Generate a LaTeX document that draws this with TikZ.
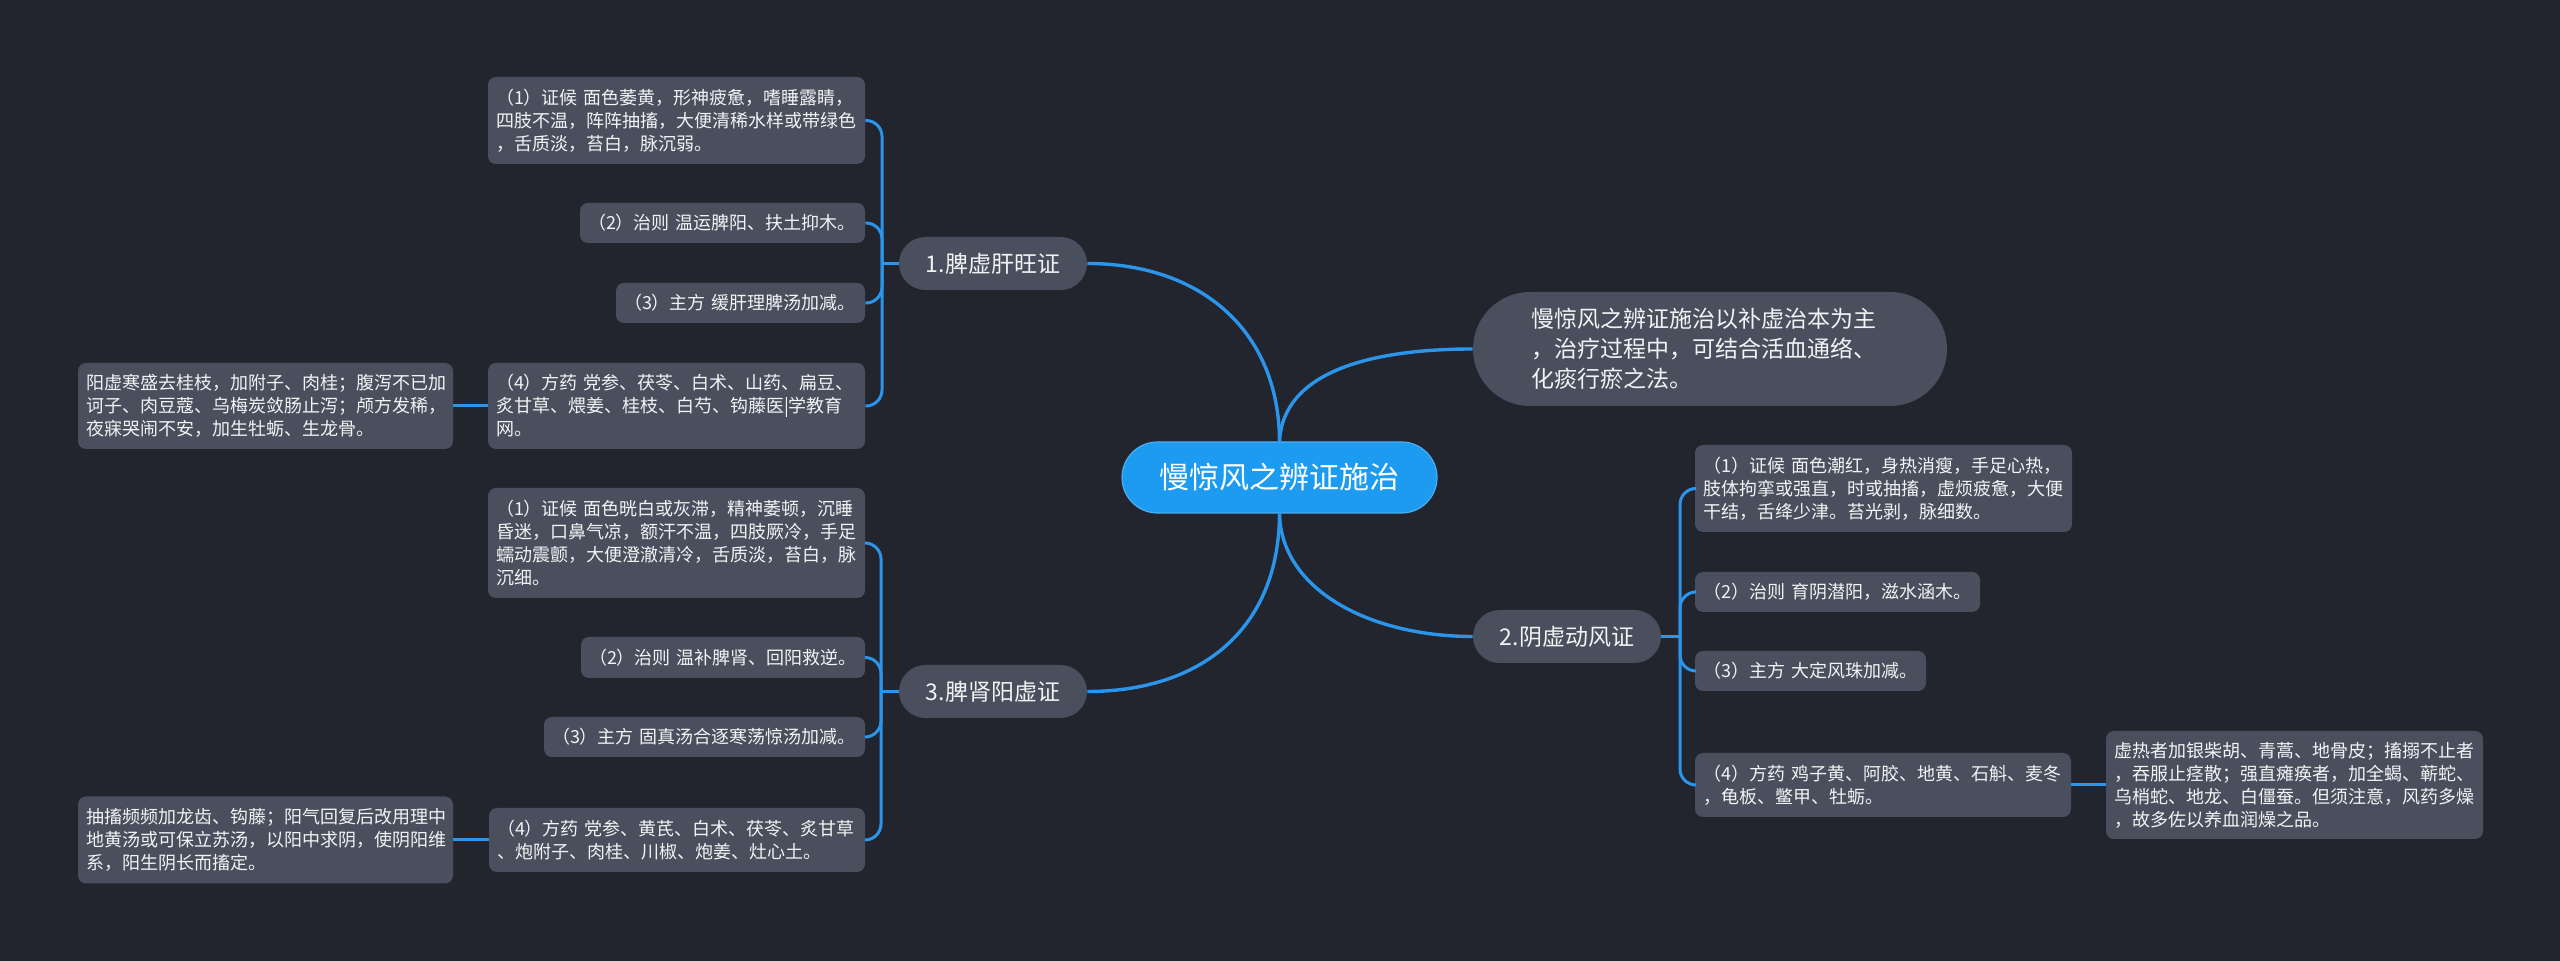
\documentclass[tikz,border=0pt]{standalone}
\usepackage{fontspec}
\setmainfont{Noto Sans CJK SC}
\definecolor{bg}{HTML}{22242E}
\definecolor{nodefill}{HTML}{4A4F5E}
\definecolor{rootfill}{HTML}{1C9BF0}
\definecolor{linec}{HTML}{2A95EA}
\definecolor{txt}{HTML}{F2F3F5}
\tikzset{
  leaf/.style={fill=nodefill, text=txt, rounded corners=4pt, inner xsep=4pt, inner ysep=0pt,
    align=left, font=\fontsize{9}{11.5}\selectfont},
  branch/.style={fill=nodefill, text=txt, rounded corners=13.25pt, minimum width=94pt,
    minimum height=26.5pt, inner sep=0pt, font=\fontsize{11.5}{14}\selectfont},
  rootnode/.style={fill=rootfill, draw=rootfill!80!white, line width=0.6pt, text=white,
    rounded corners=17.75pt, minimum width=157.5pt, minimum height=35.5pt, inner sep=0pt,
    font=\fontsize{15}{18}\selectfont},
  sumnode/.style={fill=nodefill, text=txt, rounded corners=28.5pt, inner xsep=29pt, inner ysep=0pt,
    text width=179pt, minimum height=57pt, align=left, font=\fontsize{11.5}{15}\selectfont},
  mainline/.style={draw=linec, line width=1.7pt},
  spine/.style={draw=linec, line width=1.5pt, rounded corners=8pt},
}
\begin{document}
\begin{tikzpicture}[x=0.5pt,y=-0.5pt]
\fill[bg] (0,0) rectangle (2560,961);
\useasboundingbox (0,0) rectangle (2560,961);

% root and first level
\node[rootnode] (root) at (1279.5,477.5) {慢惊风之辨证施治};
\node[sumnode] (sum) at (1710,349) {慢惊风之辨证施治以补虚治本为主\\，治疗过程中，可结合活血通络、\\化痰行瘀之法。};
\node[branch] (b1) at (993,263.5) {1.脾虚肝旺证};
\node[branch] (b2) at (1567,636.5) {2.阴虚动风证};
\node[branch] (b3) at (993,691.5) {3.脾肾阳虚证};

% branch 1 leaves
\node[leaf, text width=180.5pt, minimum height=43.5pt] (l11) at (676.5,120.5) {（1）证候 面色萎黄，形神疲惫，嗜睡露睛，\\四肢不温，阵阵抽搐，大便清稀水样或带绿色\\，舌质淡，苔白，脉沉弱。};
\node[leaf, text width=134.5pt, minimum height=20pt] (l12) at (722.5,223) {（2）治则 温运脾阳、扶土抑木。};
\node[leaf, text width=116.5pt, minimum height=20pt] (l13) at (740.5,303) {（3）主方 缓肝理脾汤加减。};
\node[leaf, text width=180.5pt, minimum height=43pt] (l14) at (676.5,406) {（4）方药 党参、茯苓、白术、山药、扁豆、\\炙甘草、煨姜、桂枝、白芍、钩藤医|学教育\\网。};
\node[leaf, text width=179.5pt, minimum height=43pt] (n14) at (265.5,406) {阳虚寒盛去桂枝，加附子、肉桂；腹泻不已加\\诃子、肉豆蔻、乌梅炭敛肠止泻；颅方发稀，\\夜寐哭闹不安，加生牡蛎、生龙骨。};

% branch 3 leaves
\node[leaf, text width=180.5pt, minimum height=55pt] (l31) at (676.5,543) {（1）证候 面色晄白或灰滞，精神萎顿，沉睡\\昏迷，口鼻气凉，额汗不温，四肢厥冷，手足\\蠕动震颤，大便澄澈清冷，舌质淡，苔白，脉\\沉细。};
\node[leaf, text width=134pt, minimum height=20.5pt] (l32) at (723,657.5) {（2）治则 温补脾肾、回阳救逆。};
\node[leaf, text width=152.5pt, minimum height=20pt] (l33) at (704.5,737) {（3）主方 固真汤合逐寒荡惊汤加减。};
\node[leaf, text width=180pt, minimum height=32pt] (l34) at (677,840) {（4）方药 党参、黄芪、白术、茯苓、炙甘草\\、炮附子、肉桂、川椒、炮姜、灶心土。};
\node[leaf, text width=179.5pt, minimum height=43.5pt] (n34) at (265.5,840) {抽搐频频加龙齿、钩藤；阳气回复后改用理中\\地黄汤或可保立苏汤，以阳中求阴，使阴阳维\\系，阳生阴长而搐定。};

% branch 2 leaves
\node[leaf, text width=180.5pt, minimum height=43.5pt] (l21) at (1883.5,488.5) {（1）证候 面色潮红，身热消瘦，手足心热，\\肢体拘挛或强直，时或抽搐，虚烦疲惫，大便\\干结，舌绛少津。苔光剥，脉细数。};
\node[leaf, text width=134.5pt, minimum height=20pt] (l22) at (1837.5,592) {（2）治则 育阴潜阳，滋水涵木。};
\node[leaf, text width=107.5pt, minimum height=20pt] (l23) at (1810.5,671) {（3）主方 大定风珠加减。};
\node[leaf, text width=180pt, minimum height=32pt] (l24) at (1883,785) {（4）方药 鸡子黄、阿胶、地黄、石斛、麦冬\\，龟板、鳖甲、牡蛎。};
\node[leaf, text width=180.5pt, minimum height=54pt] (n24) at (2294.5,785) {虚热者加银柴胡、青蒿、地骨皮；搐搦不止者\\，吞服止痉散；强直瘫痪者，加全蝎、蕲蛇、\\乌梢蛇、地龙、白僵蚕。但须注意，风药多燥\\，故多佐以养血润燥之品。};

% root connectors
\draw[mainline] (root.north) .. controls (1279,330) and (1200,263.5) .. (b1.east);
\draw[mainline] (root.north) .. controls (1283,372) and (1370,349) .. (sum.west);
\draw[mainline] (root.south) .. controls (1281,590) and (1370,636.5) .. (b2.west);
\draw[mainline] (root.south) .. controls (1279,630) and (1200,691.5) .. (b3.east);

% spines
\coordinate (s1) at (882,263.5);
\coordinate (s2) at (1680,636.5);
\coordinate (s3) at (881,691.5);
\draw[spine] (b1.west) -- (s1);
\draw[spine] (s1) |- (l11.east);
\draw[spine] (s1) |- (l12.east);
\draw[spine] (s1) |- (l13.east);
\draw[spine] (s1) |- (l14.east);
\draw[spine] (b3.west) -- (s3);
\draw[spine] (s3) |- (l31.east);
\draw[spine] (s3) |- (l32.east);
\draw[spine] (s3) |- (l33.east);
\draw[spine] (s3) |- (l34.east);
\draw[spine] (b2.east) -- (s2);
\draw[spine] (s2) |- (l21.west);
\draw[spine] (s2) |- (l22.west);
\draw[spine] (s2) |- (l23.west);
\draw[spine] (s2) |- (l24.west);
\draw[spine] (l14.west) -- (n14.east);
\draw[spine] (l34.west) -- (n34.east);
\draw[spine] (l24.east) -- (n24.west);
\end{tikzpicture}
\end{document}
